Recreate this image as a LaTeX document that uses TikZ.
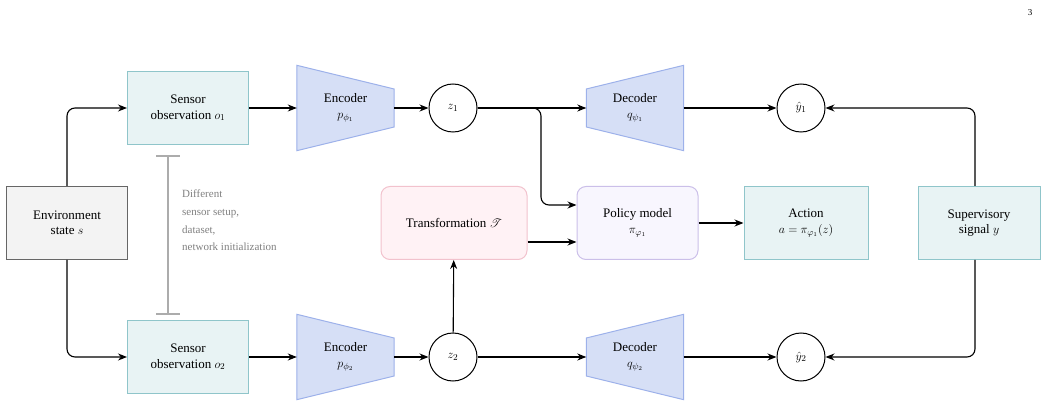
\documentclass[tikz,border=0pt]{standalone}
\usepackage{fontspec}
\setmainfont{Liberation Serif}
\usepackage{amsmath,mathrsfs}
\usetikzlibrary{arrows.meta,calc}
\definecolor{senF}{HTML}{E8F3F4}\definecolor{senD}{HTML}{8FC5CA}
\definecolor{encF}{HTML}{D6DFF6}\definecolor{encD}{HTML}{9DB1EA}
\definecolor{envF}{HTML}{F3F3F3}\definecolor{envD}{HTML}{666666}
\definecolor{trF}{HTML}{FFF2F5}\definecolor{trD}{HTML}{F2C2CD}
\definecolor{poF}{HTML}{F8F6FE}\definecolor{poD}{HTML}{CBBFE9}
\begin{document}
\begin{tikzpicture}[x=1pt,y=-1pt,
  every node/.style={font=\fontsize{13}{15.5}\selectfont,align=center,inner sep=0pt},
  box/.style={draw=#1D,fill=#1F,line width=1pt,minimum width=121pt,minimum height=73pt},
  rbox/.style={box=#1,rounded corners=9pt},
  circ/.style={circle,draw,line width=1pt,minimum size=48pt},
  trap/.style={minimum width=97pt,minimum height=85pt},
  arr/.style={line width=1.1pt,-{Stealth[length=9pt,width=7pt]},rounded corners=8pt}]
\useasboundingbox (0,0) rectangle (1042,406);
\node at (1030,13) {\fontsize{9}{10}\selectfont 3};
\node[box=env] (env) at (67,223) {Environment\\state $s$};
\node[box=sen] (s1) at (188,108) {Sensor\\observation $o_1$};
\node[box=sen] (s2) at (188,357) {Sensor\\observation $o_2$};
\node[trap] (e1) at (345.5,108) {};
\node[trap] (e2) at (345.5,357) {};
\node[trap] (d1) at (635,108) {};
\node[trap] (d2) at (635,357) {};
\foreach \n in {e1,e2}{
 \draw[draw=encD,fill=encF,line width=1pt] (\n.north west) -- ($(\n.east)+(0,-19)$) -- ($(\n.east)+(0,19)$) -- (\n.south west) -- cycle;}
\foreach \n in {d1,d2}{
 \draw[draw=encD,fill=encF,line width=1pt] (\n.north east) -- ($(\n.west)+(0,-19)$) -- ($(\n.west)+(0,19)$) -- (\n.south east) -- cycle;}
\node at (e1) {Encoder\\$p_{\phi_1}$};
\node at (e2) {Encoder\\$p_{\phi_2}$};
\node at (d1) {Decoder\\$q_{\psi_1}$};
\node at (d2) {Decoder\\$q_{\psi_2}$};
\node[circ] (z1) at (453,108) {$z_1$};
\node[circ] (z2) at (453,357) {$z_2$};
\node[circ] (y1) at (801,108) {$\hat y_1$};
\node[circ] (y2) at (801,357) {$\hat y_2$};
\node[rbox=tr,minimum width=146pt] (tr) at (454,223) {Transformation $\mathscr{T}$};
\node[rbox=po] (po) at (637.5,223) {Policy model\\$\pi_{\varphi_1}$};
\node[box=sen,minimum width=124pt] (ac) at (806,223) {Action\\$a=\pi_{\varphi_1}(z)$};
\node[box=sen,minimum width=122pt] (sup) at (979,223) {Supervisory\\signal $y$};
\draw[arr] (env.north) |- (s1.west);
\draw[arr] (env.south) |- (s2.west);
\draw[arr] (s1) -- (e1.west);
\draw[arr] (s2) -- (e2.west);
\draw[arr] (e1.east) -- (z1);
\draw[arr] (e2.east) -- (z2);
\draw[arr] (z1) -- (d1.west);
\draw[arr] (z2) -- (d2.west);
\draw[arr] (d1.east) -- (y1);
\draw[arr] (d2.east) -- (y2);
\draw[arr] (z1.east) -- (541,108) |- (po.west |- 0,205);
\draw[arr] (tr.east |- 0,242) -- (po.west |- 0,242);
\draw[arr] (z2) -- (tr);
\draw[arr] (po) -- (ac);
\draw[arr] (sup.north -| 975,0) |- (y1);
\draw[arr] (sup.south -| 975,0) |- (y2);
\coordinate (ga) at (168,156); \coordinate (gb) at (168,314);
\draw[gray!65,line width=2.5pt] (ga) -- (gb);
\draw[gray!65,line width=2.5pt] ($(ga)+(-12,0)$) -- ($(ga)+(12,0)$);
\draw[gray!65,line width=2.5pt] ($(gb)+(-12,0)$) -- ($(gb)+(12,0)$);
\node[anchor=north west,align=left,text=gray,font=\fontsize{11}{17.6}\selectfont] (note) at (182,190) {Different\\sensor setup,\\dataset,\\network initialization};
\end{tikzpicture}
\end{document}
